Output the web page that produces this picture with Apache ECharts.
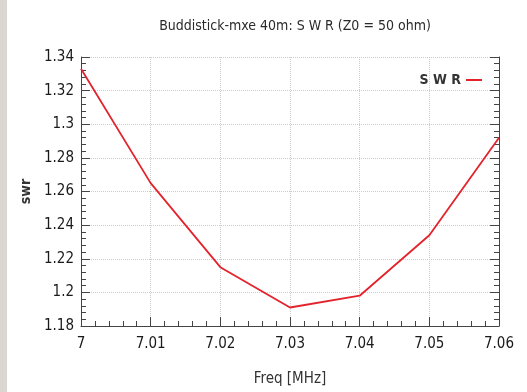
<!DOCTYPE html>
<html><head><meta charset="utf-8">
<script src="https://cdn.jsdelivr.net/npm/echarts@6/dist/echarts.min.js"></script>
<style>
html,body{margin:0;padding:0;background:#fff;}
#strip{position:absolute;left:0;top:0;width:7px;height:392px;background:#dcd6d0;}
#c{position:absolute;left:0;top:0;width:527px;height:392px;}
</style></head><body>
<div id="strip"></div>
<div id="c"></div>
<script>
const freq = [7.00, 7.01, 7.02, 7.03, 7.04, 7.05, 7.06];
const swr = [1.333, 1.265, 1.215, 1.191, 1.198, 1.234, 1.292];
const titleText = 'Buddistick-mxe 40m: S W R (Z0 = 50 ohm)';
const seriesName = 'S W R';
const xName = 'Freq [MHz]';
const yName = 'swr';

const font = '"DejaVu Sans Condensed", "Liberation Sans Narrow", "DejaVu Sans", sans-serif';
const chart = echarts.init(document.getElementById('c'), null, {renderer: 'canvas'});
const axisText = {color: '#1a1a1a', fontFamily: font, fontSize: 15};
chart.setOption({
  animation: false,
  backgroundColor: 'transparent',
  title: {
    text: titleText, left: 290, top: 14, textAlign: 'center',
    textStyle: {color: '#2a2a2a', fontFamily: font, fontSize: 14, fontWeight: 'normal'}
  },
  legend: {
    data: [seriesName], right: 40, top: 68, align: 'right',
    itemWidth: 16, itemHeight: 2, itemGap: 6,
    icon: 'rect',
    textStyle: {color: '#333', fontFamily: font, fontSize: 14, fontWeight: 'bold'}
  },
  grid: {left: 81, right: 28, top: 57, bottom: 66},
  xAxis: {
    type: 'value', min: 7.00, max: 7.06, interval: 0.01,
    name: xName, nameLocation: 'middle', nameGap: 46,
    nameTextStyle: {color: '#333', fontFamily: font, fontSize: 15},
    axisLine: {show: true, lineStyle: {color: '#444', width: 1}},
    axisTick: {show: true, inside: true, length: 9, lineStyle: {color: '#444'}},
    minorTick: {show: true, splitNumber: 5, length: 5, lineStyle: {color: '#444'}},
    axisLabel: Object.assign({margin: 11}, axisText),
    splitLine: {show: true, lineStyle: {color: '#cccccc', type: 'dotted'}}
  },
  yAxis: [{
    type: 'value', min: 1.18, max: 1.34, interval: 0.02,
    name: yName, nameLocation: 'middle', nameGap: 46, nameRotate: 90,
    nameTextStyle: {color: '#333', fontFamily: font, fontSize: 14, fontWeight: 'bold'},
    axisLine: {show: true, lineStyle: {color: '#444', width: 1}},
    axisTick: {show: true, inside: true, length: 9, lineStyle: {color: '#444'}},
    minorTick: {show: true, splitNumber: 5, length: 5, lineStyle: {color: '#444'}},
    axisLabel: Object.assign({margin: 7}, axisText),
    splitLine: {show: true, lineStyle: {color: '#cccccc', type: 'dotted'}}
  }, {
    type: 'value', min: 1.18, max: 1.34, interval: 0.02, position: 'right',
    axisLine: {show: true, lineStyle: {color: '#444', width: 1}},
    axisTick: {show: true, inside: true, length: 9, lineStyle: {color: '#444'}},
    minorTick: {show: true, splitNumber: 5, length: 5, lineStyle: {color: '#444'}},
    axisLabel: {show: false},
    splitLine: {show: false}
  }],
  series: [{
    name: seriesName, type: 'line',
    data: freq.map((f, i) => [f, swr[i]]),
    symbol: 'none',
    itemStyle: {color: '#e3232c'},
    lineStyle: {color: '#e3232c', width: 1.8}
  }]
});
</script>
</body></html>
